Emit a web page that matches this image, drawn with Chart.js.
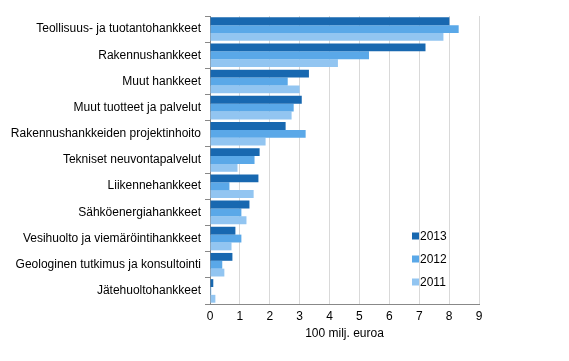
<!DOCTYPE html>
<html>
<head>
<meta charset="utf-8">
<script src="https://cdn.jsdelivr.net/npm/chart.js@4/dist/chart.umd.min.js"></script>
<style>
  html, body { margin: 0; padding: 0; background: #fff; }
  #wrap { width: 569px; height: 361px; position: relative; }
</style>
</head>
<body>
<div id="wrap"><canvas id="c"></canvas></div>
<script>
const categories = [
  "Teollisuus- ja tuotantohankkeet",
  "Rakennushankkeet",
  "Muut hankkeet",
  "Muut tuotteet ja palvelut",
  "Rakennushankkeiden projektinhoito",
  "Tekniset neuvontapalvelut",
  "Liikennehankkeet",
  "Sähköenergiahankkeet",
  "Vesihuolto ja viemäröintihankkeet",
  "Geologinen tutkimus ja konsultointi",
  "Jätehuoltohankkeet"
];
const seriesNames = ["2013", "2012", "2011"];
const values2013 = [8.01, 7.21, 3.31, 3.07, 2.53, 1.66, 1.62, 1.32, 0.85, 0.75, 0.11];
const values2012 = [8.32, 5.32, 2.60, 2.80, 3.20, 1.49, 0.65, 1.05, 1.05, 0.41, 0.04];
const values2011 = [7.81, 4.28, 3.00, 2.73, 1.86, 0.92, 1.46, 1.22, 0.72, 0.48, 0.18];
const xTicks = [0, 1, 2, 3, 4, 5, 6, 7, 8, 9];
const xTitle = "100 milj. euroa";

const colors = ["#1868b0", "#5aa8e8", "#92c5f1"];
const FONT = "'Liberation Sans', Arial, sans-serif";

const legendPlugin = {
  id: 'insideLegend',
  afterDraw(chart) {
    const ctx = chart.ctx;
    const ca = chart.chartArea;
    const x0 = ca.right - 67;
    const ys = [ca.bottom - 68, ca.bottom - 45, ca.bottom - 22];
    ctx.save();
    ctx.font = "12px " + FONT;
    ctx.textBaseline = 'middle';
    chart.data.datasets.forEach((ds, i) => {
      ctx.fillStyle = ds.backgroundColor;
      ctx.fillRect(x0, ys[i] - 3.5, 7, 7);
      ctx.fillStyle = '#000';
      ctx.fillText(ds.label, x0 + 8, ys[i] + 0.5);
    });
    ctx.restore();
  }
};

new Chart(document.getElementById('c'), {
  type: 'bar',
  data: {
    labels: categories,
    datasets: [
      { label: seriesNames[0], data: values2013, backgroundColor: colors[0] },
      { label: seriesNames[1], data: values2012, backgroundColor: colors[1] },
      { label: seriesNames[2], data: values2011, backgroundColor: colors[2] }
    ]
  },
  options: {
    indexAxis: 'y',
    responsive: true,
    maintainAspectRatio: false,
    animation: false,
    devicePixelRatio: 1,
    layout: { padding: { top: 16, right: 90, bottom: 0, left: 0 } },
    datasets: { bar: { categoryPercentage: 0.9, barPercentage: 1.0, borderWidth: 0 } },
    plugins: { legend: { display: false }, tooltip: { enabled: false } },
    scales: {
      x: {
        min: 0, max: 9,
        afterBuildTicks(scale) { scale.ticks = xTicks.map(v => ({ value: v })); },
        afterFit(scale) { scale.height = 57; },
        ticks: { stepSize: 1, color: '#000', font: { family: FONT, size: 12 }, padding: 5, maxRotation: 0 },
        grid: { color: '#d9d9d9', drawTicks: false, lineWidth: 1 },
        border: { color: '#888', width: 1 },
        title: { display: true, text: xTitle, color: '#000', font: { family: FONT, size: 12 }, padding: { top: 0, bottom: 20 } }
      },
      y: {
        afterFit(scale) { scale.width = 210; },
        ticks: { color: '#000', font: { family: FONT, size: 12 }, padding: 4 },
        grid: { drawOnChartArea: false, drawTicks: true, tickLength: 5, color: '#888', offset: true },
        border: { color: '#888', width: 1 }
      }
    }
  },
  plugins: [legendPlugin]
});
</script>
</body>
</html>
